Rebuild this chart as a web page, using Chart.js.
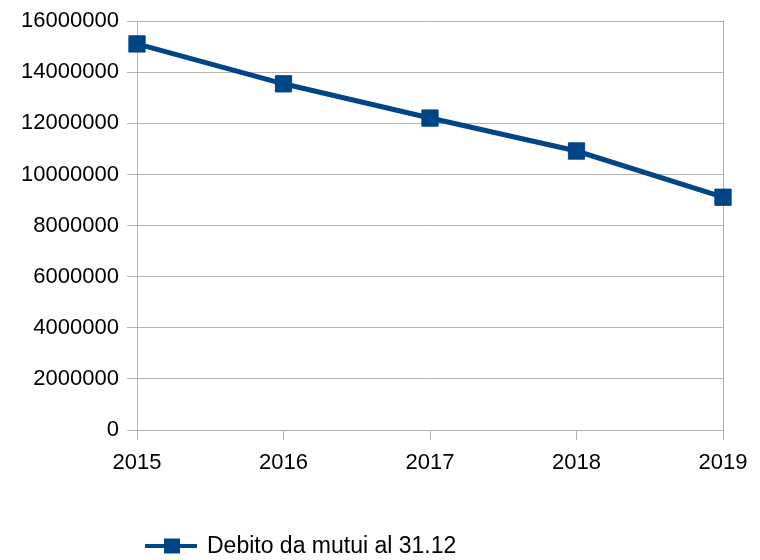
<!DOCTYPE html>
<html lang="it">
  <head>
    <meta charset="UTF-8" />
    <title>Debito da mutui</title>
    <style>
      html, body { margin: 0; padding: 0; background: #ffffff; }
      #wrap { width: 760px; height: 560px; }
    </style>
  </head>
  <body>
    <div id="wrap"><canvas id="myChart" width="760" height="560"></canvas></div>
    <script src="https://cdn.jsdelivr.net/npm/chart.js@4/dist/chart.umd.min.js"></script>
    <script>
      // data
      var years = ["2015", "2016", "2017", "2018", "2019"];
      var debito = [15110000, 13550000, 12210000, 10920000, 9110000];
      var seriesLabel = "Debito da mutui al 31.12";
      var yTicks = [0, 2000000, 4000000, 6000000, 8000000, 10000000, 12000000, 14000000, 16000000];

      var blue = "#004586";
      var gridGray = "#b3b3b3";
      var fontName = "'Liberation Sans', Arial, sans-serif";

      // legend drawn by hand: line + square like the office chart
      var legendPlugin = {
        id: "lineLegend",
        afterDraw: function (chart) {
          var ctx = chart.ctx;
          var ds = chart.data.datasets[0];
          var y = 546;
          ctx.save();
          ctx.strokeStyle = ds.borderColor;
          ctx.lineWidth = 4;
          ctx.beginPath();
          ctx.moveTo(145, y);
          ctx.lineTo(197, y);
          ctx.stroke();
          ctx.fillStyle = ds.borderColor;
          ctx.fillRect(164, y - 7.5, 16, 15);
          ctx.fillStyle = "#000000";
          ctx.font = "23px " + fontName;
          ctx.textBaseline = "middle";
          ctx.textAlign = "left";
          ctx.fillText(ds.label, 207, y + 1);
          ctx.restore();
        }
      };

      var ctx = document.getElementById("myChart").getContext("2d");
      var myChart = new Chart(ctx, {
        type: "line",
        data: {
          labels: years,
          datasets: [
            {
              label: seriesLabel,
              data: debito,
              borderColor: blue,
              backgroundColor: blue,
              borderWidth: 5,
              pointStyle: "rect",
              pointRadius: 11.5,
              pointBorderWidth: 1,
              pointBackgroundColor: blue,
              pointBorderColor: blue,
              tension: 0,
              fill: false
            }
          ]
        },
        options: {
          responsive: false,
          animation: false,
          layout: { padding: { top: 19, left: 0, right: 0, bottom: 0 } },
          plugins: {
            legend: { display: false },
            tooltip: { enabled: false }
          },
          scales: {
            x: {
              offset: false,
              afterFit: function (scale) { scale.height = 130; },
              grid: {
                drawOnChartArea: false,
                color: gridGray,
                tickLength: 10
              },
              border: { display: true, color: gridGray },
              ticks: {
                color: "#000000",
                padding: 10,
                maxRotation: 0,
                font: { family: fontName, size: 22 }
              }
            },
            y: {
              min: 0,
              max: 16000000,
              afterFit: function (scale) { scale.width = 137; },
              afterBuildTicks: function (scale) {
                scale.ticks = yTicks.map(function (v) { return { value: v }; });
              },
              grid: { color: gridGray, tickLength: 10 },
              border: { display: true, color: gridGray },
              ticks: {
                color: "#000000",
                padding: 8,
                font: { family: fontName, size: 22 },
                callback: function (v) { return String(v); }
              }
            },
            yRight: {
              position: "right",
              display: true,
              afterFit: function (scale) { scale.width = 37; },
              grid: { display: false },
              ticks: { display: false },
              border: { display: true, color: gridGray }
            }
          }
        },
        plugins: [legendPlugin]
      });
    </script>
  </body>
</html>
